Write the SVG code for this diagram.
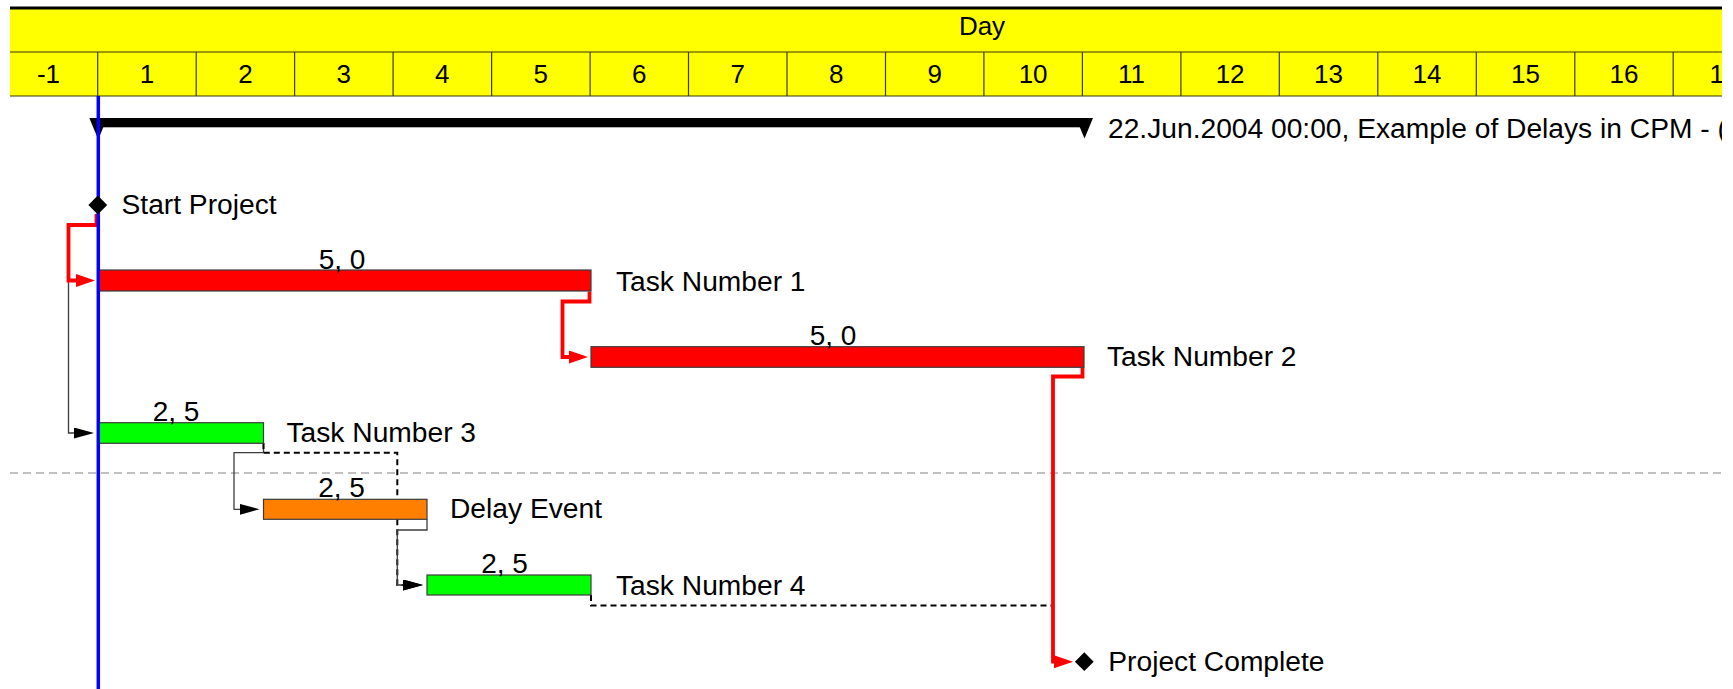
<svg xmlns="http://www.w3.org/2000/svg" width="1733" height="689" viewBox="0 0 1733 689">
<style>
text{font-family:"Liberation Sans",Arial,sans-serif;fill:#000}
.hd{font-size:26px;text-anchor:middle}
.lb{font-size:28.2px}
.dur{font-size:28px;text-anchor:middle}
.grid{stroke:#3a3a00;stroke-width:1.2}
.bar{stroke:#3c3c3c;stroke-width:1.2}
.crit{fill:none;stroke:#ff0000;stroke-width:3.8;stroke-linejoin:miter}
.thin{fill:none;stroke:#3c3c3c;stroke-width:1.3}
.dash{fill:none;stroke:#000;stroke-width:2;stroke-dasharray:6 4}
</style>
<defs>
<clipPath id="clip"><rect x="0" y="0" width="1722" height="689"/></clipPath>
<marker id="aR" markerUnits="userSpaceOnUse" markerWidth="20" markerHeight="14" refX="11" refY="6.5" orient="auto"><path d="M0,0 L19,6.5 L0,13 z" fill="#ff0000"/></marker>
<marker id="aK" markerUnits="userSpaceOnUse" markerWidth="22" markerHeight="12" refX="12" refY="5.5" orient="auto"><path d="M0,0 L20,5.5 L0,11 z" fill="#000"/></marker>
</defs>
<g clip-path="url(#clip)">
<g id="timescale">
<rect x="10" y="9" width="1712" height="87" fill="#ffff00"/>
<rect x="10" y="6.5" width="1712" height="3" fill="#000"/>
<line class="grid" x1="10" y1="52" x2="1722" y2="52"/>
<line class="grid" x1="10" y1="96" x2="1722" y2="96"/>
<g class="grid">
<line x1="97.7" y1="52" x2="97.7" y2="96"/><line x1="196.2" y1="52" x2="196.2" y2="96"/><line x1="294.6" y1="52" x2="294.6" y2="96"/><line x1="393.1" y1="52" x2="393.1" y2="96"/><line x1="491.6" y1="52" x2="491.6" y2="96"/><line x1="590.1" y1="52" x2="590.1" y2="96"/><line x1="688.5" y1="52" x2="688.5" y2="96"/><line x1="787" y1="52" x2="787" y2="96"/><line x1="885.5" y1="52" x2="885.5" y2="96"/><line x1="983.9" y1="52" x2="983.9" y2="96"/><line x1="1082.4" y1="52" x2="1082.4" y2="96"/><line x1="1180.9" y1="52" x2="1180.9" y2="96"/><line x1="1279.3" y1="52" x2="1279.3" y2="96"/><line x1="1377.8" y1="52" x2="1377.8" y2="96"/><line x1="1476.3" y1="52" x2="1476.3" y2="96"/><line x1="1574.8" y1="52" x2="1574.8" y2="96"/><line x1="1673.2" y1="52" x2="1673.2" y2="96"/>
</g>
<text class="hd" x="982" y="35" font-size="27">Day</text>
<text class="hd" x="48.5" y="83">-1</text><text class="hd" x="146.9" y="83">1</text><text class="hd" x="245.4" y="83">2</text><text class="hd" x="343.8" y="83">3</text><text class="hd" x="442.3" y="83">4</text><text class="hd" x="540.8" y="83">5</text><text class="hd" x="639.3" y="83">6</text><text class="hd" x="737.7" y="83">7</text><text class="hd" x="836.2" y="83">8</text><text class="hd" x="934.7" y="83">9</text><text class="hd" x="1033.1" y="83">10</text><text class="hd" x="1131.6" y="83">11</text><text class="hd" x="1230.1" y="83">12</text><text class="hd" x="1328.5" y="83">13</text><text class="hd" x="1427" y="83">14</text><text class="hd" x="1525.5" y="83">15</text><text class="hd" x="1624" y="83">16</text><text class="hd" x="1724" y="83">17</text>
</g>
<line id="divider" x1="10" y1="473" x2="1722" y2="473" stroke="#c0c0c0" stroke-width="2" stroke-dasharray="8 5"/>
<g id="summary">
<rect x="98" y="118" width="986" height="9.3" fill="#000"/>
<path d="M89.3,118 L107,118 L98.3,139.5 z" fill="#000"/>
<path d="M1076,118 L1093,118 L1084.5,138.5 z" fill="#000"/>
<text class="lb" x="1108" y="137.5" font-size="27.9">22.Jun.2004 00:00, Example of Delays in CPM - (</text>
</g>
<g id="connectors">
<path class="thin" d="M97,214 V225 H68.5 V433 H86" marker-end="url(#aK)"/>
<path class="thin" d="M263.5,443 V452.7 H234 V509.3 H251.5" marker-end="url(#aK)"/>
<path class="dash" d="M263.5,443 V452.7 H397.3 V585 H415" marker-end="url(#aK)"/>
<path class="thin" d="M427,519.3 V530 H397.3 V585 H415" marker-end="url(#aK)"/>
<path class="dash" d="M591,595 V605.5 H1053 V662 H1066"/>
<path class="crit" d="M96.5,214 V225 H68.5 V280.5 H87" marker-end="url(#aR)"/>
<path class="crit" d="M589.5,291.5 V301.5 H562.5 V357 H580" marker-end="url(#aR)"/>
<path class="crit" d="M1082.5,367.5 V376.5 H1053 V661.7 H1065" marker-end="url(#aR)"/>
</g>
<g id="task1">
<rect class="bar" x="98" y="270" width="493" height="21" fill="#ff0000"/>
<text class="dur" x="342" y="268.5">5, 0</text>
<text class="lb" x="616" y="290.5">Task Number 1</text>
</g>
<g id="task2">
<rect class="bar" x="591" y="346.7" width="493" height="20.6" fill="#ff0000"/>
<text class="dur" x="833" y="344.5">5, 0</text>
<text class="lb" x="1107" y="366">Task Number 2</text>
</g>
<g id="task3">
<rect class="bar" x="98" y="422.7" width="165.5" height="20.6" fill="#00ff00"/>
<text class="dur" x="176" y="420.5">2, 5</text>
<text class="lb" x="286.5" y="441.5">Task Number 3</text>
</g>
<g id="delay">
<rect class="bar" x="263.5" y="499.3" width="163.5" height="20" fill="#ff8000"/>
<text class="dur" x="341.5" y="496.5">2, 5</text>
<text class="lb" x="450" y="518.3">Delay Event</text>
</g>
<g id="task4">
<rect class="bar" x="427" y="575" width="164" height="20" fill="#00ff00"/>
<text class="dur" x="504.5" y="572.5">2, 5</text>
<text class="lb" x="616" y="594.5">Task Number 4</text>
</g>
<line id="today" x1="98.3" y1="96" x2="98.3" y2="689" stroke="#0000ff" stroke-width="3.5"/>
<g id="start">
<path d="M97.8,195.5 L107.2,205 L97.8,214.5 L88.4,205 z" fill="#000"/>
<text class="lb" x="121.5" y="214.3">Start Project</text>
</g>
<g id="complete">
<path d="M1084.3,652.3 L1093.7,661.7 L1084.3,671.1 L1074.9,661.7 z" fill="#000"/>
<text class="lb" x="1108.3" y="671">Project Complete</text>
</g>
</g>
</svg>
